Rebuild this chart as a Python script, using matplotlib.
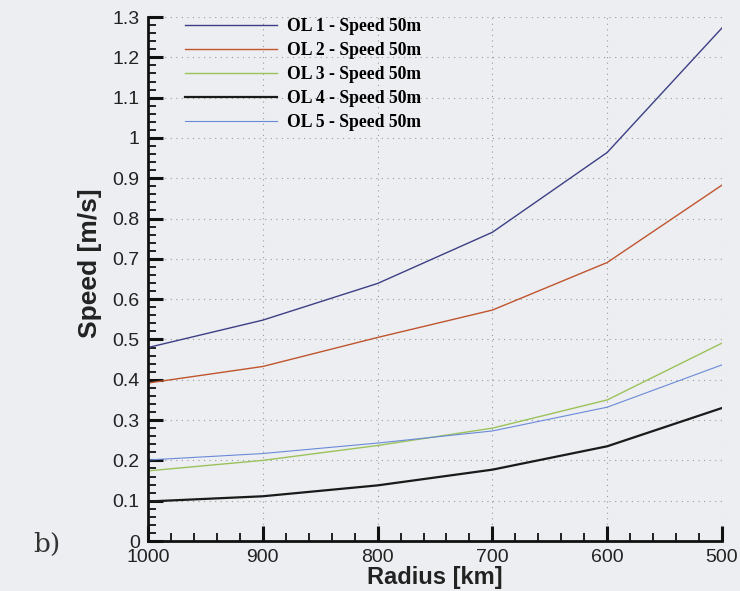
import matplotlib
matplotlib.use("Agg")
import matplotlib.pyplot as plt
from matplotlib.ticker import MultipleLocator

radius = [1000, 900, 800, 700, 600, 500]
ol1 = [0.480, 0.548, 0.639, 0.766, 0.964, 1.273]
ol2 = [0.392, 0.433, 0.505, 0.573, 0.691, 0.883]
ol3 = [0.174, 0.200, 0.237, 0.280, 0.350, 0.491]
ol4 = [0.098, 0.111, 0.138, 0.177, 0.235, 0.330]
ol5 = [0.201, 0.217, 0.243, 0.273, 0.332, 0.437]
labels = ["OL 1 - Speed 50m", "OL 2 - Speed 50m", "OL 3 - Speed 50m",
          "OL 4 - Speed 50m", "OL 5 - Speed 50m"]
colors = ["#3d3f85", "#c0552e", "#9cc25a", "#1a1a1a", "#6a8ad8"]
widths = [1.0, 1.0, 1.0, 1.6, 0.8]

bg = "#eceef2"
fig = plt.figure(figsize=(7.4, 5.91), dpi=100, facecolor=bg)
ax = fig.add_axes([0.2, 0.0846, 0.7757, 0.8866], facecolor=bg)

for ys, lab, c, w in zip([ol1, ol2, ol3, ol4, ol5], labels, colors, widths):
    ax.plot(radius, ys, color=c, lw=w, label=lab)

ax.set_xlim(1000, 500)
ax.set_ylim(0, 1.3)
ax.xaxis.set_major_locator(MultipleLocator(100))
ax.xaxis.set_minor_locator(MultipleLocator(20))
ax.yaxis.set_minor_locator(MultipleLocator(0.02))
ax.set_yticks([0, 0.1, 0.2, 0.3, 0.4, 0.5, 0.6, 0.7, 0.8, 0.9, 1.0, 1.1, 1.2, 1.3])
ax.set_yticklabels(["0", "0.1", "0.2", "0.3", "0.4", "0.5", "0.6", "0.7", "0.8",
                    "0.9", "1", "1.1", "1.2", "1.3"])

for s in ["top", "right"]:
    ax.spines[s].set_visible(False)
for s in ["left", "bottom"]:
    ax.spines[s].set_linewidth(2.0)
    ax.spines[s].set_color("#111111")

ax.tick_params(which="major", direction="in", length=11, width=2.2, color="#111111",
               labelsize=14, pad=6, labelcolor="#222222")
ax.tick_params(which="minor", direction="in", length=6, width=1.3, color="#111111")
for t in ax.get_xticklabels() + ax.get_yticklabels():
    t.set_family("Liberation Sans")

ax.grid(True, which="major", linestyle=(0, (1, 4)), color="#9a9a9a", linewidth=0.8)

ax.set_xlabel("Radius [km]", fontsize=17, fontweight="bold", family="Liberation Sans",
              labelpad=0, color="#222222")
ax.set_ylabel("Speed [m/s]", fontsize=19, fontweight="bold", family="Liberation Sans",
              labelpad=2, color="#222222")
ax.yaxis.set_label_coords(-0.080, 0.53)

leg = ax.legend(loc="upper left", bbox_to_anchor=(0.037, 1.028), frameon=False,
                handlelength=5.2, handletextpad=0.6, labelspacing=0.4,
                prop={"family": "Liberation Serif", "weight": "bold", "size": 12.7})

fig.text(0.045, 0.078, "b)", fontsize=19, family="DejaVu Serif", color="#333333",
         va="center", ha="left")

fig.savefig("out.png", dpi=100, facecolor=bg)
